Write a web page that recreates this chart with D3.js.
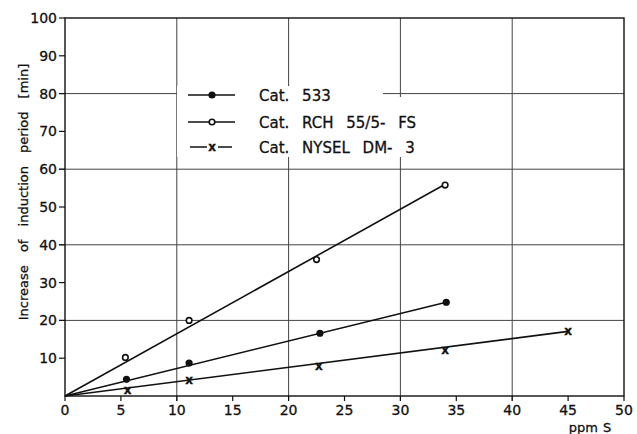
<!DOCTYPE html>
<meta charset="utf-8">
<style>
body { margin: 0; background: #fff; }
text { font-family: "DejaVu Sans", sans-serif; fill: #111; stroke: #111; stroke-width: 0.3px; }
</style>
<body>
<script src="https://d3js.org/d3.v7.min.js"></script>
<script>

var width = 637,
    height = 434;

// values
var cat533 = [[5.5, 4.4], [11.1, 8.7], [22.8, 16.6], [34.1, 24.8]];
var rch = [[5.4, 10.2], [11.1, 20.0], [22.5, 36.1], [34.0, 55.8]];
var nysel = [[5.6, 1.6], [11.1, 4.2], [22.7, 8.0], [34.0, 12.2], [45.0, 17.1]];

// fitted straight lines, from the origin to the end point
var fitEnds = [[34.1, 24.8], [34.0, 56.0], [45.0, 17.1]];

var seriesNames = ["Cat. 533", "Cat. RCH 55/5- FS", "Cat. NYSEL DM- 3"];
var markers = ["dot", "circle", "cross"];

var xTicks = [0, 5, 10, 15, 20, 25, 30, 35, 40, 45, 50];
var yTicks = [10, 20, 30, 40, 50, 60, 70, 80, 90, 100];
var xGrid = [10, 20, 30, 40];
var yGrid = [20, 40, 60, 80];

var x = d3.scaleLinear().domain([0, 50]).range([65, 624]);
var y = d3.scaleLinear().domain([0, 100]).range([396, 18]);

var svg = d3.select("body").append("svg")
    .attr("width", width)
    .attr("height", height);

// grid
svg.append("g").selectAll("line")
    .data(yGrid)
  .enter().append("line")
    .attr("x1", x(0) - 6).attr("x2", x(50))
    .attr("y1", function(d) { return y(d); })
    .attr("y2", function(d) { return y(d); })
    .attr("stroke", "#444")
    .attr("stroke-width", 1);

svg.append("g").selectAll("line")
    .data(xGrid)
  .enter().append("line")
    .attr("x1", function(d) { return x(d); })
    .attr("x2", function(d) { return x(d); })
    .attr("y1", y(100)).attr("y2", y(0) + 5)
    .attr("stroke", "#444")
    .attr("stroke-width", 1);

// legend background blanks the grid behind it
svg.append("rect").attr("x", 177).attr("y", 86).attr("width", 206).attr("height", 71).attr("fill", "#fff");
svg.append("rect").attr("x", 383).attr("y", 97).attr("width", 47).attr("height", 60).attr("fill", "#fff");

// frame
svg.append("rect")
    .attr("x", x(0)).attr("y", y(100))
    .attr("width", x(50) - x(0)).attr("height", y(0) - y(100))
    .attr("fill", "none")
    .attr("stroke", "#111")
    .attr("stroke-width", 1.4);

// ticks
svg.append("g").selectAll("line")
    .data(yTicks)
  .enter().append("line")
    .attr("x1", x(0) - 6).attr("x2", x(0))
    .attr("y1", function(d) { return y(d); })
    .attr("y2", function(d) { return y(d); })
    .attr("stroke", "#111").attr("stroke-width", 1.2);

svg.append("g").selectAll("line")
    .data(xTicks)
  .enter().append("line")
    .attr("x1", function(d) { return x(d); })
    .attr("x2", function(d) { return x(d); })
    .attr("y1", y(0)).attr("y2", y(0) + 5)
    .attr("stroke", "#111").attr("stroke-width", 1.2);

// tick labels
svg.append("g").selectAll("text")
    .data(yTicks)
  .enter().append("text")
    .attr("x", x(0) - 8)
    .attr("y", function(d) { return y(d) + 5; })
    .attr("text-anchor", "end")
    .style("font-size", "14px")
    .text(function(d) { return d; });

svg.append("g").selectAll("text")
    .data(xTicks)
  .enter().append("text")
    .attr("x", function(d) { return x(d); })
    .attr("y", 415)
    .attr("text-anchor", "middle")
    .style("font-size", "14px")
    .text(function(d) { return d; });

svg.append("text")
    .attr("x", 590).attr("y", 432)
    .attr("text-anchor", "middle")
    .style("font-size", "13px")
    .style("word-spacing", "1px")
    .text("ppm S");

svg.append("text")
    .attr("transform", "translate(28,192) rotate(-90)")
    .attr("text-anchor", "middle")
    .style("font-size", "13px")
    .style("word-spacing", "9px")
    .text("Increase of induction period [min]");

// fitted lines
var allSeries = [cat533, rch, nysel];

svg.append("g").selectAll("line")
    .data(fitEnds)
  .enter().append("line")
    .attr("x1", x(0)).attr("y1", y(0))
    .attr("x2", function(d) { return x(d[0]); })
    .attr("y2", function(d) { return y(d[1]); })
    .attr("stroke", "#111")
    .attr("stroke-width", 1.6);

function drawMarker(g, type, cx, cy) {
  if (type == "dot") {
    g.append("circle").attr("cx", cx).attr("cy", cy).attr("r", 3.6).attr("fill", "#111");
  } else if (type == "circle") {
    g.append("circle").attr("cx", cx).attr("cy", cy).attr("r", 2.8)
      .attr("fill", "#fff").attr("stroke", "#111").attr("stroke-width", 1.6);
  } else {
    g.append("text").attr("x", cx).attr("y", cy + 4)
      .attr("text-anchor", "middle")
      .style("font-size", "12px").style("font-weight", "bold")
      .text("x");
  }
}

allSeries.forEach(function(s, i) {
  var g = svg.append("g");
  s.forEach(function(p) {
    drawMarker(g, markers[i], x(p[0]), y(p[1]));
  });
});

// legend
var legendY = [95, 122, 147];
seriesNames.forEach(function(name, i) {
  var g = svg.append("g");
  var x1 = i == 2 ? 190 : 188, x2 = i == 2 ? 232 : 235;
  g.append("line")
    .attr("x1", x1).attr("x2", x2)
    .attr("y1", legendY[i]).attr("y2", legendY[i])
    .attr("stroke", "#111").attr("stroke-width", 1.6);
  if (i == 2) {
    g.append("rect").attr("x", 207).attr("y", legendY[i] - 4).attr("width", 11).attr("height", 8).attr("fill", "#fff");
  }
  drawMarker(g, markers[i], 212, legendY[i]);
  g.append("text")
    .attr("x", 259).attr("y", legendY[i] + 5.5)
    .style("font-size", "15px")
    .style("word-spacing", "8px")
    .text(name);
});

</script>
</body>
